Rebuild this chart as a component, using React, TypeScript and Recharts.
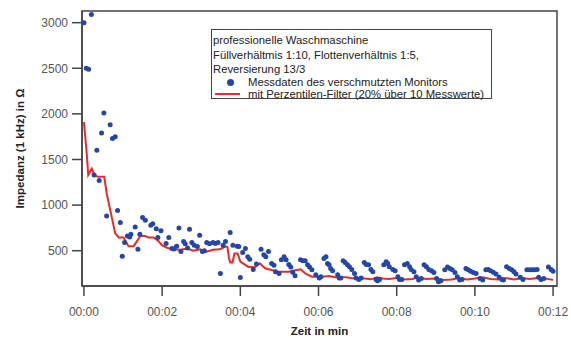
import { ComposedChart, Scatter, Line, XAxis, YAxis, ReferenceArea } from 'recharts';

// Messdaten (Zeit in min, Impedanz in Ohm)
const dotMinutes = [
  0.0, 0.06, 0.12, 0.19, 0.26, 0.33, 0.39, 0.45, 0.51, 0.58, 0.67, 0.73, 0.8, 0.86, 0.93, 0.98,
  1.04, 1.11, 1.17, 1.2, 1.31, 1.38, 1.43, 1.5, 1.57, 1.71, 1.76, 1.85, 1.89, 1.97,
  2.1, 2.17, 2.25, 2.3, 2.37, 2.43, 2.48, 2.55, 2.59, 2.65, 2.7, 2.76, 2.82, 2.9, 2.96,
  3.03, 3.08, 3.14, 3.21, 3.3, 3.36, 3.43, 3.49, 3.56, 3.62, 3.74, 3.81, 3.92, 3.96,
  4.0, 4.06, 4.13, 4.19, 4.24, 4.33, 4.41, 4.53, 4.6, 4.65, 4.72, 4.8, 4.86, 4.9, 4.99,
  5.05, 5.12, 5.17, 5.24, 5.29, 5.34, 5.4, 5.54, 5.6, 5.66, 5.72, 5.77, 5.83, 5.93,
  6.02, 6.06, 6.14, 6.19, 6.23, 6.27, 6.31, 6.36, 6.49, 6.53, 6.57, 6.63, 6.68, 6.74, 6.79, 6.85, 6.92, 6.96,
  7.03, 7.09, 7.17, 7.22, 7.28, 7.34, 7.39, 7.47, 7.51, 7.56, 7.67, 7.73, 7.77, 7.81, 7.9, 7.96,
  8.03, 8.07, 8.13, 8.2, 8.27, 8.33, 8.37, 8.44, 8.5, 8.56, 8.63, 8.7, 8.76, 8.82, 8.89, 8.95,
  9.02, 9.07, 9.13, 9.23, 9.3, 9.36, 9.42, 9.49, 9.55, 9.61, 9.67, 9.77, 9.83, 9.89, 9.96,
  10.03, 10.13, 10.2, 10.28, 10.34, 10.4, 10.47, 10.54, 10.62, 10.69, 10.73, 10.81, 10.88, 10.94,
  11.0, 11.05, 11.16, 11.23, 11.33, 11.4, 11.46, 11.52, 11.59, 11.63, 11.69, 11.76, 11.88, 11.95, 12.0,
];
const dotImpedance = [
  3000, 2500, 2490, 3090, 1330, 1600, 1270, 1790, 2010, 880, 1880, 1730, 1750, 940, 810, 440,
  590, 660, 650, 680, 760, 515, 680, 865, 835, 780, 795, 740, 645, 720,
  580, 645, 525, 520, 550, 750, 490, 600, 575, 530, 735, 590, 560, 545, 670,
  490, 500, 590, 575, 590, 580, 590, 250, 560, 600, 700, 560, 550, 545,
  205, 480, 525, 435, 405, 295, 355, 515, 455, 435, 490, 360, 340, 270, 250,
  400, 435, 400, 350, 320, 265, 225, 400, 390, 390, 345, 320, 290, 235,
  200, 215, 415, 435, 360, 345, 305, 280, 235, 200, 200, 390, 370, 345, 325, 295, 250, 200,
  185, 200, 370, 350, 345, 295, 270, 185, 170, 185, 345, 380, 360, 325, 295, 280,
  215, 185, 185, 345, 360, 325, 295, 270, 215, 180, 195, 345, 325, 295, 280, 260,
  195, 160, 170, 290, 320, 305, 290, 260, 215, 180, 185, 305, 290, 275, 260,
  250, 195, 180, 290, 295, 280, 265, 245, 210, 185, 180, 325, 305, 290,
  270, 245, 210, 185, 290, 290, 290, 290, 295, 210, 185, 195, 320, 295, 275,
];

// Perzentilen-Filter
const filterMinutes = [
  0.0, 0.07, 0.11, 0.2, 0.28, 0.37, 0.52, 0.58, 0.71, 0.8, 0.89, 1.01, 1.1, 1.14, 1.27, 1.35,
  1.44, 1.57, 1.65, 1.78, 1.91, 1.99, 2.11, 2.26, 2.47, 2.64, 2.8, 2.98, 3.13, 3.3, 3.47,
  3.62, 3.67, 3.71, 3.74, 3.8, 3.85, 3.93, 4.0, 4.2, 4.37, 4.5, 4.63, 4.8, 4.98, 5.23,
  5.45, 5.54, 5.66, 5.83, 6.1, 6.26, 6.43, 6.7, 6.87, 7.13, 7.34, 7.5, 7.65, 7.8, 8.0,
  8.15, 8.4, 8.55, 8.75, 9.0, 9.2, 9.4, 9.6, 9.8, 10.0, 10.2, 10.4, 10.6, 10.8, 11.0,
  11.2, 11.4, 11.6, 11.8, 12.0,
];
const filterImpedance = [
  1910, 1570, 1330, 1400, 1320, 1310, 1310, 1130, 870, 690, 645, 645, 580, 550, 550, 600,
  660, 660, 645, 645, 605, 560, 535, 515, 510, 525, 500, 515, 490, 510, 515,
  545, 540, 420, 370, 370, 470, 470, 380, 325, 318, 362, 307, 288, 270, 270,
  288, 296, 252, 215, 215, 223, 208, 208, 197, 197, 186, 208, 195, 190, 200,
  185, 190, 205, 190, 195, 180, 185, 200, 185, 195, 210, 190, 185, 200, 185,
  200, 190, 200, 195, 180,
];

const xTicks = [0, 2, 4, 6, 8, 10, 12];
const xTickLabels = ['00:00', '00:02', '00:04', '00:06', '00:08', '00:10', '00:12'];
const yTicks = [500, 1000, 1500, 2000, 2500, 3000];

const dots = dotMinutes.map((t, i) => ({ t, v: dotImpedance[i] }));
const filtered = filterMinutes.map((t, i) => ({ t, v: filterImpedance[i] }));

const xDomain = [-0.05, 12.1];
const yDomain = [113, 3128];
const axisColor = '#444';
const blue = '#2347a8';
const red = '#ea2a2a';

const Dot = (props: any) => <circle cx={props.cx} cy={props.cy} r={2.5} fill={blue} />;

const lineStyle = { position: 'absolute' as const, left: 1, lineHeight: '14px', whiteSpace: 'nowrap' as const };

export default function App() {
  return (
    <div
      style={{
        position: 'absolute',
        left: 0,
        top: 0,
        width: 571,
        height: 338,
        background: '#fff',
        fontFamily: '"Liberation Sans", Arial, sans-serif',
      }}
    >
      <ComposedChart width={571} height={338} margin={{ top: 11, right: 14, bottom: 22, left: 0 }}>
        <ReferenceArea
          x1={xDomain[0]}
          x2={xDomain[1]}
          y1={yDomain[0]}
          y2={yDomain[1]}
          fill="none"
          stroke={axisColor}
          strokeWidth={1.5}
        />
        <XAxis
          dataKey="t"
          type="number"
          domain={xDomain}
          allowDataOverflow
          ticks={xTicks}
          tickFormatter={(t: number) => xTickLabels[xTicks.indexOf(t)]}
          height={30}
          tickSize={10}
          tickMargin={11}
          tick={{ fill: '#555', fontSize: 12 }}
          tickLine={{ stroke: axisColor, strokeWidth: 1.5 }}
          axisLine={{ stroke: axisColor, strokeWidth: 1.5 }}
          label={{ value: 'Zeit in min', position: 'bottom', offset: 11, fill: '#222', fontSize: 11.5, fontWeight: 'bold' }}
        />
        <YAxis
          type="number"
          domain={yDomain}
          allowDataOverflow
          ticks={yTicks}
          width={82}
          tickSize={10}
          tickMargin={4}
          tick={{ fill: '#555', fontSize: 12 }}
          tickLine={{ stroke: axisColor, strokeWidth: 1.5 }}
          axisLine={{ stroke: axisColor, strokeWidth: 1.5 }}
          label={{
            value: 'Impedanz (1 kHz) in Ω',
            angle: -90,
            position: 'insideLeft',
            offset: 20,
            fill: '#222',
            fontSize: 11.5,
            fontWeight: 'bold',
            style: { textAnchor: 'middle' },
          }}
        />
        <Scatter data={dots} dataKey="v" shape={Dot} isAnimationActive={false} />
        <Line
          data={filtered}
          dataKey="v"
          type="linear"
          stroke={red}
          strokeWidth={2}
          dot={false}
          isAnimationActive={false}
        />
      </ComposedChart>
      <div
        style={{
          position: 'absolute',
          left: 211,
          top: 29,
          width: 281,
          height: 70,
          boxSizing: 'border-box',
          border: `1.5px solid ${axisColor}`,
          background: '#fff',
          fontSize: 11.3,
          color: '#222',
        }}
      >
        <div style={{ ...lineStyle, top: 3 }}>professionelle Waschmaschine</div>
        <div style={{ ...lineStyle, top: 18 }}>Füllverhältmis 1:10, Flottenverhältnis 1:5,</div>
        <div style={{ ...lineStyle, top: 32 }}>Reversierung 13/3</div>
        <div style={{ ...lineStyle, top: 45 }}>
          <span
            style={{
              position: 'absolute',
              left: 14,
              top: 4,
              width: 7,
              height: 7,
              borderRadius: '50%',
              background: blue,
            }}
          />
          <span style={{ position: 'absolute', left: 35 }}>Messdaten des verschmutzten Monitors</span>
        </div>
        <div style={{ ...lineStyle, top: 57 }}>
          <span style={{ position: 'absolute', left: 2, top: 6, width: 25, height: 2, background: red }} />
          <span style={{ position: 'absolute', left: 35 }}>mit Perzentilen-Filter (20% über 10 Messwerte)</span>
        </div>
      </div>
    </div>
  );
}
